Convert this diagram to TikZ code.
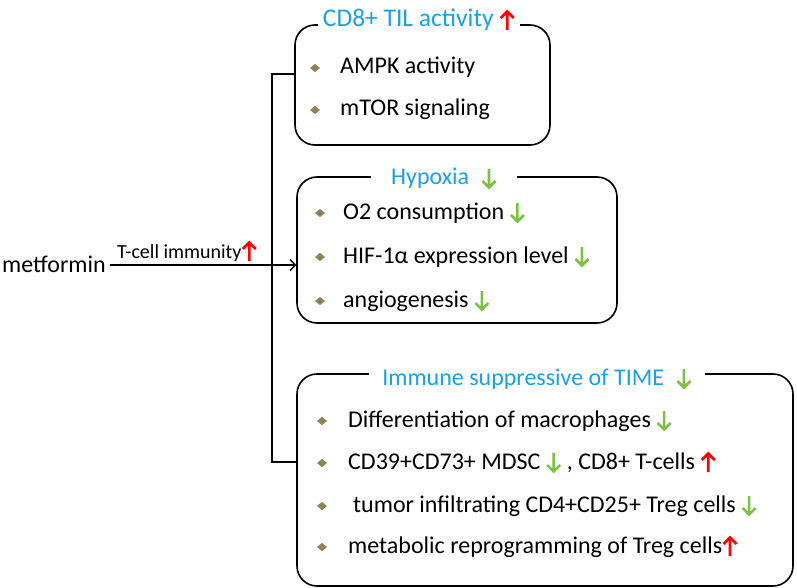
\documentclass[tikz,border=0pt]{standalone}
\usepackage{fontspec}
\setmainfont{Carlito}
\usetikzlibrary{shapes.geometric,arrows.meta}
\definecolor{ttlc}{HTML}{1BA1E2}
\definecolor{arrred}{HTML}{FF0000}
\definecolor{arrgreen}{HTML}{7CC142}
\definecolor{bulc}{HTML}{8C8456}
\newcommand\myup{\tikz[baseline=0pt,x=1pt,y=1pt]\draw[arrred,line width=2.6pt,line join=miter,line cap=butt] (0,-3)--(0,15.5) (-6.5,9)--(0,15.5)--(6.5,9);}
\newcommand\mydn{\tikz[baseline=0pt,x=1pt,y=1pt]\draw[arrgreen,line width=2.6pt,line join=miter,line cap=butt] (0,16)--(0,-2.5) (-6.5,4)--(0,-2.5)--(6.5,4);}
\tikzset{
  boxc/.style={draw=black,line width=1.6pt,rounded corners=20pt,rectangle,inner sep=0pt},
  ttl/.style={anchor=base,fill=white,text=ttlc,inner ysep=3pt,font=\fontsize{24}{28}\selectfont},
  itm/.style={anchor=base west,inner sep=0pt,font=\fontsize{24}{28}\selectfont},
  bul/.style={diamond,fill=bulc,inner sep=0pt,minimum width=10pt,minimum height=8.5pt},
  link/.style={line width=1.6pt},
}
\begin{document}
\begin{tikzpicture}[x=1pt,y=-1pt]
\useasboundingbox (0,0) rectangle (797,588);
\fill[white] (0,0) rectangle (797,588);

% boxes
\node[boxc,minimum width=255pt,minimum height=120pt] (box1) at (422.5,85) {};
\node[boxc,minimum width=320pt,minimum height=146pt] (box2) at (457,250) {};
\node[boxc,minimum width=496pt,minimum height=212pt] (box3) at (545,480) {};

% titles
\node[ttl,inner xsep=5pt,font=\fontsize{25.5}{30}\selectfont] (t1) at (419,27) {CD8+ TIL activity \myup};
\node[ttl,inner xsep=20pt] (t2) at (444,185) {Hypoxia\hspace{12pt}\mydn};
\node[ttl,inner xsep=13pt] (t3) at (537,385) {Immune suppressive of TIME\hspace{12pt}\mydn};

% box 1 items
\node[bul] (b11) at (315,68) {};
\node[itm] (i11) at (340,74) {AMPK activity};
\node[bul] (b12) at (315,110) {};
\node[itm] (i12) at (340,116) {mTOR signaling};

% box 2 items
\node[bul] (b21) at (320,213) {};
\node[itm] (i21) at (343,219) {O2 consumption \mydn};
\node[bul] (b22) at (320,257) {};
\node[itm] (i22) at (343,263) {HIF-1α expression level \mydn};
\node[bul] (b23) at (320,301) {};
\node[itm] (i23) at (343,307) {angiogenesis \mydn};

% box 3 items
\node[bul] (b31) at (322,421) {};
\node[itm] (i31) at (348,427) {Differentiation of macrophages \mydn};
\node[bul] (b32) at (322,463) {};
\node[itm] (i32) at (348,469) {CD39+CD73+ MDSC \mydn\ , CD8+ T-cells \myup};
\node[bul] (b33) at (322,506) {};
\node[itm] (i33) at (353,512) {tumor infiltrating CD4+CD25+ Treg cells \mydn};
\node[bul] (b34) at (322,547) {};
\node[itm] (i34) at (348,553) {metabolic reprogramming of Treg cells\myup};

% metformin and arrow
\node[anchor=base west,inner sep=0pt,font=\fontsize{24}{28}\selectfont] (met) at (2,272) {metformin};
\coordinate (astart) at (110,265);
\draw[line width=1.5pt,-{Straight Barb[length=5pt,width=11pt,line width=1.5pt]}] (astart) -- (astart -| box2.west);
\node[anchor=base west,inner sep=0pt,font=\fontsize{20}{24}\selectfont] (lbl) at (117,258) {T-cell immunity\myup};

% bracket
\coordinate (btop) at (272,74);
\coordinate (bbot) at (272,462);
\draw[link] (box1.west |- btop) -- (btop) -- (bbot) -- (box3.west |- bbot);
\end{tikzpicture}
\end{document}
